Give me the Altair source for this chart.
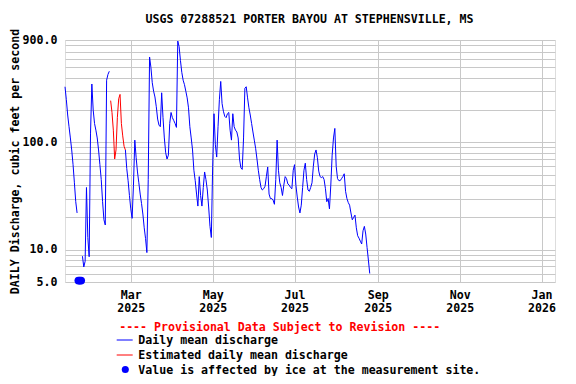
import altair as alt
import pandas as pd

# ---------------- data ----------------
START = "2025-01-11"          # first day of the daily series
daily_mean = [
    330, 250, 180, 140, 110, 85, 62, 42, 28, 22,
    None, None, None,
    8.7, 6.9, 7.8, 38, 13, 8.6, 120, 350, 200, 150, 130, 110, 85, 62, 45, 28, 19, 17, 380, 430, 460,
    None, None, None, None, None, None, None, None, None, None, None,
    85, 57, 44, 32, 24, 19.6, 40, 105, 72, 53, 42, 33, 27, 21.5, 16, 12.7, 9.4, 45,
    625, 500, 360, 300, 265, 215, 165, 145, 140, 290, 170, 110, 80, 70, 76, 150, 190,
    170, 160, 150, 138, 880, 780, 580, 450, 380, 345, 300, 260, 210, 140, 110, 85, 55,
    44, 33, 25.5, 48, 32, 25.5, 38, 53, 45, 36, 25, 16.5, 13, 60, 185, 95, 73, 140,
    250, 370, 230, 195, 175, 170, 185, 190, 130, 105, 185, 140, 130, 125, 110, 70, 58,
    56, 110, 320, 330, 260, 210, 180, 150, 125, 105, 88, 70, 55, 45, 38, 36, 37, 39,
    48, 59, 33, 30, 30, 29, 26.5, 45, 105, 55, 42, 38, 32, 40, 48, 46, 41, 40, 38, 37,
    55, 62, 40, 31, 25, 22, 26, 38, 55, 64, 45, 36, 35, 38, 42, 60, 78, 85, 72, 54,
    48, 47, 48, 45, 37, 28, 30, 24, 40, 76, 110, 135, 60, 46, 44, 44, 46, 48, 51, 35,
    30, 27.5, 26, 22, 19, 20, 21, 16, 13.5, 12.8, 12, 11.3, 15, 16.5, 14, 10.5, 8, 6,
]
EST_START = "2025-02-14"
estimated = [245, 190, 130, 70, 85, 170, 255, 280, 150, 115, 92, 85]
ice_dates = ["2025-01-21", "2025-01-22", "2025-01-23"]
ice_value = 5.15

y_ticks = [5, 6, 7, 8, 9, 10, 20, 30, 40, 50, 60, 70, 80, 90,
           100, 200, 300, 400, 500, 600, 700, 800, 900]
y_labeled = [5, 10, 100, 900]
x_ticks = [(2025, 3), (2025, 5), (2025, 7), (2025, 9), (2025, 11), (2026, 1)]

title_text = "USGS 07288521 PORTER BAYOU AT STEPHENSVILLE, MS"
y_title = "DAILY Discharge, cubic feet per second"
provisional = "---- Provisional Data Subject to Revision ----"
legend_labels = ["Daily mean discharge", "Estimated daily mean discharge",
                 "Value is affected by ice at the measurement site."]

# ---------------- tables ----------------
rows, seg, gap = [], 0, True
for i, v in enumerate(daily_mean):
    if v is None:
        gap = True
        continue
    if gap:
        seg += 1
        gap = False
    d = (pd.Timestamp(START) + pd.Timedelta(days=i)).strftime("%Y-%m-%d")
    rows.append({"date": d, "q": v, "seg": seg})
blue_df = pd.DataFrame(rows)

red_df = pd.DataFrame({
    "date": [(pd.Timestamp(EST_START) + pd.Timedelta(days=i)).strftime("%Y-%m-%d")
             for i in range(len(estimated))],
    "q": estimated,
})
ice_df = pd.DataFrame({"date": ice_dates, "q": [ice_value] * len(ice_dates)})
dummy = pd.DataFrame({"a": [0]})

FONT = "DejaVu Sans Mono"
FS = 11.6
BLUE = "#0000ff"
RED = "#ff0000"

x_scale = alt.Scale(type="utc", domain=[alt.DateTime(year=2025, month=1, date=11, utc=True),
                                        alt.DateTime(year=2026, month=1, date=11, utc=True)])
y_scale = alt.Scale(type="log", domain=[5, 900], nice=False)

lab_list = "[" + ",".join(str(v) for v in y_labeled) + "]"
x_axis = alt.Axis(
    values=[alt.DateTime(year=y, month=m, date=1, utc=True) for y, m in x_ticks],
    labelExpr="[utcFormat(datum.value, '%b'), utcFormat(datum.value, '%Y')]",
    title=None, grid=True, gridColor="#c8c8c8", gridWidth=1, ticks=False, domain=False,
    labelFont=FONT, labelFontSize=FS, labelFontWeight="bold", labelColor="black",
    labelPadding=7, labelLineHeight=13, labelBaseline="top",
)
y_axis = alt.Axis(
    values=y_ticks,
    labelExpr="indexof(" + lab_list + ", datum.value) >= 0 ? format(datum.value, '.1f') : ''",
    title=y_title, titleFont=FONT, titleFontSize=FS, titleFontWeight="bold", titleColor="black",
    titlePadding=2,
    grid=True, gridColor="#c8c8c8", gridWidth=1, ticks=False, tickSize=0, domain=False,
    labelFont=FONT, labelFontSize=FS, labelFontWeight="bold", labelColor="black",
    labelPadding=8,
)

blue = alt.Chart(blue_df).mark_line(color=BLUE, strokeWidth=1, interpolate="linear").encode(
    x=alt.X("date:T", scale=x_scale, axis=x_axis),
    y=alt.Y("q:Q", scale=y_scale, axis=y_axis),
    detail="seg:N",
)
red = alt.Chart(red_df).mark_line(color=RED, strokeWidth=1).encode(
    x=alt.X("date:T", scale=x_scale),
    y=alt.Y("q:Q", scale=y_scale),
)
ice = alt.Chart(ice_df).mark_point(filled=True, color=BLUE, size=62, opacity=1).encode(
    x=alt.X("date:T", scale=x_scale),
    y=alt.Y("q:Q", scale=y_scale),
)

# ---------------- title and legend (text around the plot) ----------------
def txt(s, x, y, color="black", align="left"):
    return alt.Chart(dummy).mark_text(
        text=s, font=FONT, fontSize=FS, fontWeight="bold", color=color,
        align=align, baseline="middle",
    ).encode(x=alt.value(x), y=alt.value(y))

title = txt(title_text, 244.5, -20.5, "black", "center")
leg_head = txt(provisional, 214.7, 288, RED, "center")
leg_l1 = alt.Chart(dummy).mark_rule(color=BLUE, strokeWidth=1).encode(
    x=alt.value(51.7), x2=alt.value(67.7), y=alt.value(300))
leg_l2 = alt.Chart(dummy).mark_rule(color=RED, strokeWidth=1).encode(
    x=alt.value(51.7), x2=alt.value(67.7), y=alt.value(315))
leg_dot = alt.Chart(dummy).mark_point(filled=True, color=BLUE, size=50, opacity=1).encode(
    x=alt.value(60.3), y=alt.value(329.5))
leg_t1 = txt(legend_labels[0], 73.3, 301)
leg_t2 = txt(legend_labels[1], 73.3, 316)
leg_t3 = txt(legend_labels[2], 73.3, 331)

chart = alt.layer(
    blue, red, ice, title, leg_head, leg_l1, leg_l2, leg_dot, leg_t1, leg_t2, leg_t3
).properties(
    width=490, height=242,
    autosize=alt.AutoSizeParams(type="none"),
    padding={"left": 57, "top": 32, "right": 13, "bottom": 94},
).configure_view(
    stroke="black", strokeWidth=1.5,
).configure(background="white")

chart.save("out.html", embed_options={"renderer": "svg", "actions": False})
